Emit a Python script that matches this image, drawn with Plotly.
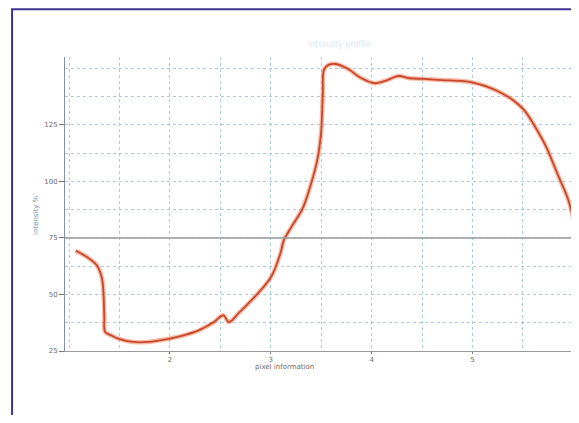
import plotly.graph_objects as go

# profile
position = [
    1.066, 1.176, 1.274, 1.323, 1.34, 1.35, 1.358, 1.414, 1.487, 1.634,
    1.779, 2.0, 2.145, 2.29, 2.437, 2.53, 2.584, 2.693, 2.84, 3.004,
    3.095, 3.13, 3.205, 3.315, 3.39, 3.461, 3.498, 3.516, 3.527, 3.571,
    3.644, 3.754, 3.9, 4.03, 4.155, 4.265, 4.375, 4.52, 4.70, 4.887,
    5.015, 5.144, 5.29, 5.4, 5.51, 5.62, 5.73, 5.84, 5.95, 6.0,
]
intensity = [
    69.3, 66.6, 63.0, 57.8, 51.9, 40.1, 33.4, 32.0, 30.5, 29.0,
    29.0, 30.5, 32.0, 34.2, 37.8, 40.8, 37.8, 42.3, 48.9, 57.8,
    68.1, 74.0, 79.9, 88.0, 97.6, 109.4, 121.2, 139.0, 149.3, 151.5,
    151.9, 150.0, 145.6, 143.4, 144.8, 146.6, 145.6, 145.3, 144.8, 144.4,
    143.6, 141.9, 139.0, 136.0, 131.6, 124.2, 115.3, 103.5, 91.7, 82.9,
]
x_ticks = [2, 3, 4, 5, 6]
y_ticks = [25, 50, 75, 100, 125]
threshold = 75

GRID = "#a9cbe6"
LABEL = dict(family="DejaVu Sans", size=7, color="#6a6a6a")

fig = go.Figure()
fig.add_trace(go.Scatter(
    x=position, y=intensity, mode="lines",
    line=dict(color="rgba(238,120,80,0.5)", width=4.5, shape="spline"),
    hoverinfo="skip", showlegend=False,
))
fig.add_trace(go.Scatter(
    x=position, y=intensity, mode="lines",
    line=dict(color="#c9472b", width=1.8, shape="spline"),
    showlegend=False,
))

fig.add_hline(y=threshold, line=dict(color="#9a9a9a", width=1.5), layer="above")

# outer frame of the figure
fig.add_shape(
    type="rect", xref="paper", yref="paper",
    x0=-0.104, x1=1.3, y0=-0.5, y1=1.162,
    line=dict(color="#3d3591", width=2),
)
fig.add_annotation(
    text="pixel information", xref="paper", yref="paper",
    x=0.432, y=-0.074, showarrow=False, font=LABEL,
)
fig.add_annotation(
    text="intensity %", xref="paper", yref="paper",
    x=-0.069, y=0.462, textangle=-90, showarrow=False,
    font=dict(family="DejaVu Sans", size=7, color="#6f86a8"),
)
fig.add_annotation(
    text="intensity profile", xref="paper", yref="paper",
    x=0.54, y=1.065, showarrow=False,
    font=dict(family="DejaVu Sans", size=8, color="#dbe8f4"),
)

# page body adds an 8px margin, so the figure is sized to avoid scrollbars
fig.update_layout(
    width=571, height=407,
    margin=dict(l=57, r=5, t=49, b=64),
    paper_bgcolor="white", plot_bgcolor="white",
    showlegend=False,
)
fig.update_xaxes(
    range=[0.96, 6.006], tickvals=x_ticks,
    showgrid=True, gridcolor=GRID, griddash="dot", gridwidth=1,
    minor=dict(dtick=0.5, tick0=0, showgrid=True, gridcolor=GRID, griddash="dot"),
    showline=True, linecolor="#9a9a9a", linewidth=1,
    ticks="outside", ticklen=2, tickcolor="#777",
    tickfont=LABEL, zeroline=False, automargin=False,
    ticklabeloverflow="allow",
)
fig.update_yaxes(
    range=[25, 155], tickvals=y_ticks,
    showgrid=True, gridcolor=GRID, griddash="dot", gridwidth=1,
    minor=dict(dtick=12.5, tick0=0, showgrid=True, gridcolor=GRID, griddash="dot"),
    showline=True, linecolor="#8090a8", linewidth=1, mirror=True,
    ticks="outside", ticklen=5, tickcolor="#777",
    tickfont=LABEL, zeroline=False, automargin=False,
)

fig.write_html("out.html", default_width="571px", default_height="407px")
